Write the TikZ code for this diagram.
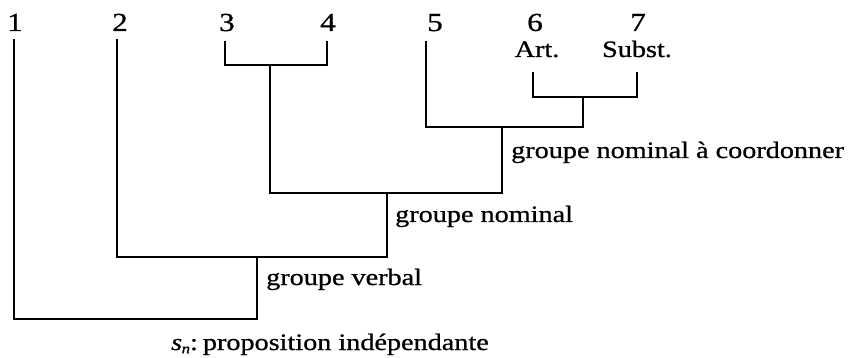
\documentclass[tikz,border=0pt]{standalone}
\usepackage{fontspec}
\setmainfont{Liberation Serif}[FakeStretch=1.2,FakeBold=0.8]
\begin{document}
\begin{tikzpicture}[x=1pt,y=-1pt,
  lbl/.style={inner sep=0pt,anchor=base west,font=\fontsize{23.5}{28}\selectfont},
  num/.style={inner sep=0pt,anchor=base,font=\fontsize{26}{30}\selectfont},
  wrd/.style={inner sep=0pt,anchor=base,font=\fontsize{23.5}{28}\selectfont},
  br/.style={line width=1.3pt,line cap=rect,line join=miter}]
\useasboundingbox (0,0) rectangle (856,358);
% word labels (numbers)
\node[num] (n1) at (15,31) {1};
\node[num] (n2) at (120,31) {2};
\node[num] (n3) at (227,31) {3};
\node[num] (n4) at (328,31) {4};
\node[num] (n5) at (435,31) {5};
\node[num] (n6) at (535,31) {6};
\node[num] (n7) at (638,31) {7};
\node[wrd] (art) at (537,57) {Art.};
\node[wrd] (sub) at (637,57) {Subst.};
% leaf tops
\coordinate (t1) at (14,40);
\coordinate (t2) at (117,40);
\coordinate (t3) at (225,42);
\coordinate (t4) at (327,42);
\coordinate (t5) at (426,42);
\coordinate (t6) at (533,73);
\coordinate (t7) at (637,73);
% junctions
\coordinate (j34) at (270,65);
\coordinate (j67) at (583,97);
\coordinate (jgnc) at (502,127);
\coordinate (jgn) at (387,193);
\coordinate (jgv) at (257,257);
\coordinate (js) at (257,319);
% brackets
\draw[br] (t3) |- (j34) -| (t4);
\draw[br] (j34) -- (j34 |- jgn);
\draw[br] (t6) |- (j67) -| (t7);
\draw[br] (t5) |- (jgnc) -| (j67);
\draw[br] (jgnc) -- (jgnc |- jgn);
\draw[br] (j34 |- jgn) -- (jgnc |- jgn);
\draw[br] (jgn) -- (jgn |- jgv);
\draw[br] (t2) |- (jgv) -| (jgn |- jgv);
\draw[br] (jgv) -- (js);
\draw[br] (t1) |- (js);
% group labels
\node[lbl] (lgnc) at (511,158) {groupe nominal à coordonner};
\node[lbl] (lgn) at (395,222) {groupe nominal};
\node[lbl] (lgv) at (266,285) {groupe verbal};
\node[lbl] (ls) at (171,350) {\textit{s}\kern-0.5pt\raisebox{-0.3ex}{\fontsize{14}{14}\selectfont\textit{n}}:\kern5pt proposition indépendante};
\end{tikzpicture}
\end{document}
